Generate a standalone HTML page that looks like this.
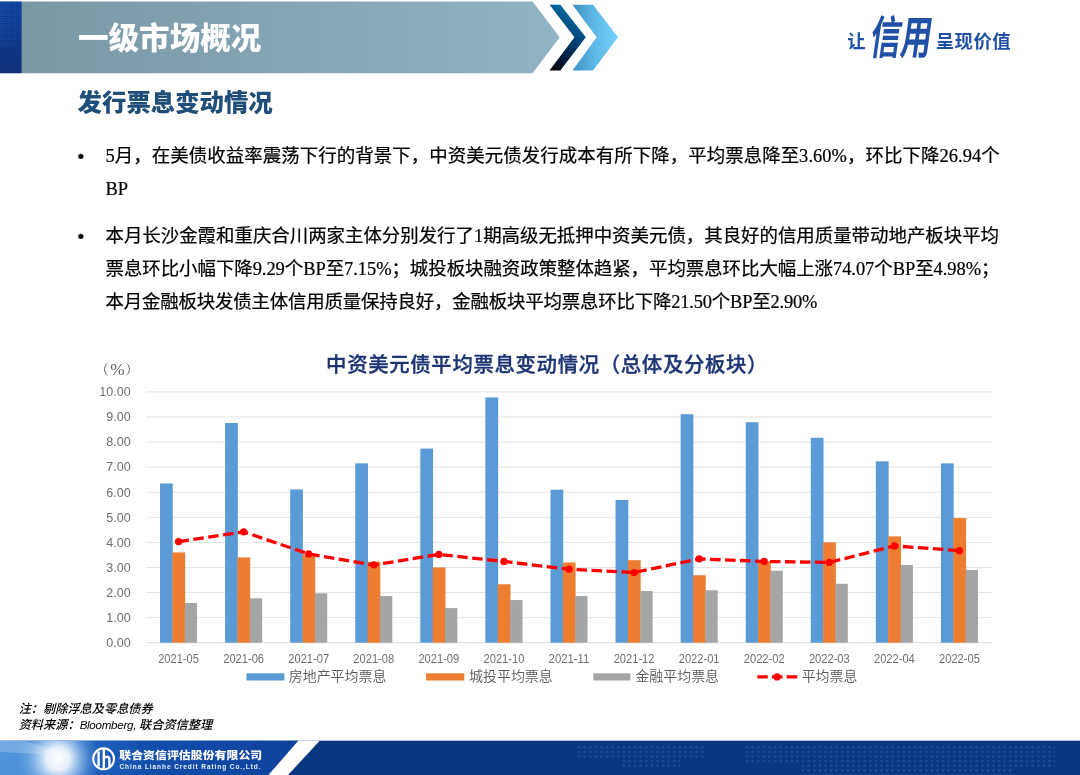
<!DOCTYPE html>
<html lang="zh-CN"><head><meta charset="utf-8"><title>一级市场概况</title>
<style>
html,body{margin:0;padding:0;background:#fff;}
body{width:1080px;height:775px;position:relative;overflow:hidden;font-family:"Liberation Sans","Noto Sans CJK SC",sans-serif;}
.abs{position:absolute;}
.banner{left:0;top:0;}
.h1{left:78px;top:15.6px;font-size:30.55px;line-height:44px;font-weight:900;color:#fff;white-space:nowrap;letter-spacing:0;}
.h2{left:77.6px;top:85px;font-size:24.4px;line-height:36px;font-weight:900;color:#1f4e79;white-space:nowrap;}
.slogan{color:#2151a6;white-space:nowrap;}
.body{left:105.5px;top:139.6px;font-family:"Liberation Serif","Noto Sans CJK SC",sans-serif;font-size:18.45px;line-height:33px;color:#000;white-space:nowrap;-webkit-text-stroke:0.22px #000;}
.body p{margin:0 0 14.9px 0;position:relative;}
.body p:before{content:"•";position:absolute;left:-28px;top:0;font-family:"Liberation Sans",sans-serif;font-size:19px;}
.note{left:18.7px;top:701.8px;font-size:12.2px;line-height:15.5px;font-style:italic;font-weight:500;color:#000;white-space:nowrap;}
.note span{font-size:11.6px;font-weight:400;letter-spacing:-0.28px;}
.chart{position:absolute;left:0;top:0;}
.chart .ax{font-family:"Liberation Sans",sans-serif;font-size:12px;fill:#6e6e6e;}
.chart .lg{font-family:"Liberation Sans","Noto Sans CJK SC",sans-serif;font-weight:350;font-size:13.95px;letter-spacing:0px;fill:#595959;}
.chart .pct{font-family:"Liberation Serif","Noto Serif CJK SC",serif;font-size:13.3px;fill:#595959;}
.chart .ct{font-family:"Liberation Sans","Noto Sans CJK SC",sans-serif;font-weight:500;font-size:20.4px;letter-spacing:0.66px;fill:#1d3573;stroke:#1d3573;stroke-width:0.35px;}
</style></head><body>
<svg class="abs banner" width="1080" height="80" viewBox="0 0 1080 80">
<defs>
<linearGradient id="gb" x1="0" x2="1" y1="0" y2="0"><stop offset="0" stop-color="#7996a4"/><stop offset="1" stop-color="#91b3c4"/></linearGradient>
<linearGradient id="gd" x1="0" x2="0" y1="0" y2="1"><stop offset="0" stop-color="#0a3d98"/><stop offset="1" stop-color="#11317a"/></linearGradient>
<pattern id="dots" width="2.4" height="2.4" patternUnits="userSpaceOnUse"><rect x="0.3" y="0.3" width="1.5" height="1.2" fill="#3f7bd0" fill-opacity="0.55"/></pattern>
<linearGradient id="dmg" x1="0" x2="1" y1="0" y2="1"><stop offset="0" stop-color="#fff"/><stop offset="0.55" stop-color="#888"/><stop offset="1" stop-color="#000"/></linearGradient>
<mask id="dm"><rect x="0" y="0" width="22" height="48" fill="url(#dmg)"/></mask>
<linearGradient id="c1" x1="0.2" x2="0.6" y1="1" y2="0"><stop offset="0" stop-color="#00040f"/><stop offset="0.5" stop-color="#003a6e"/><stop offset="1" stop-color="#0077ad"/></linearGradient>
<linearGradient id="c2" x1="0" x2="1" y1="0" y2="0"><stop offset="0" stop-color="#3b8fc1"/><stop offset="0.45" stop-color="#5cb6e4"/><stop offset="1" stop-color="#76d1fb"/></linearGradient>
</defs>
<polygon points="0,1.6 532.5,1.6 559.7,37.2 532.5,73.2 0,73.2" fill="url(#gb)"/>
<rect x="0" y="1.6" width="21.6" height="71.6" fill="url(#gd)"/>
<rect x="0" y="1.6" width="21.6" height="46" fill="url(#dots)" mask="url(#dm)"/>
<polygon points="549.5,4.7 560.3,4.7 585.8,37.2 560.3,70.4 549.5,70.4 574.5,37.2" fill="url(#c1)"/>
<polygon points="572.5,4.7 593,4.7 618,37.2 593,70.4 572.5,70.4 596.7,37.2" fill="url(#c2)"/>
</svg>
<div class="abs h1">一级市场概况</div>
<div class="abs h2">发行票息变动情况</div>
<div class="abs slogan" style="left:847.3px;top:28.6px;font-size:18.4px;line-height:26px;font-weight:700;">让</div>
<div class="abs slogan" style="left:870.8px;top:12px;font-size:30.6px;line-height:50px;font-weight:700;font-family:'Liberation Sans','Noto Sans CJK SC',sans-serif;letter-spacing:0px;transform-origin:0 50%;transform:scale(1,1.5) skewX(-12deg);">信用</div>
<div class="abs slogan" style="left:935.8px;top:28.6px;font-size:18.4px;line-height:26px;font-weight:700;letter-spacing:0.4px;">呈现价值</div>
<div class="abs body">
<p><span class="ln" style="letter-spacing:0.0585px">5月，在美债收益率震荡下行的背景下，中资美元债发行成本有所下降，平均票息降至3.60%，环比下降26.94个</span><br><span class="ln">BP</span></p>
<p><span class="ln" style="letter-spacing:-0.0146px">本月长沙金霞和重庆合川两家主体分别发行了1期高级无抵押中资美元债，其良好的信用质量带动地产板块平均</span><br><span class="ln" style="letter-spacing:-0.0407px">票息环比小幅下降9.29个BP至7.15%；城投板块融资政策整体趋紧，平均票息环比大幅上涨74.07个BP至4.98%；</span><br><span class="ln" style="letter-spacing:-0.1864px">本月金融板块发债主体信用质量保持良好，金融板块平均票息环比下降21.50个BP至2.90%</span></p>
</div>
<svg class="chart" width="1080" height="775" viewBox="0 0 1080 775">
<line x1="146.0" x2="992.0" y1="642.70" y2="642.70" stroke="#d9d9d9" stroke-width="1"/>
<text class="ax" x="106.30" y="647.00" textLength="24.4" lengthAdjust="spacingAndGlyphs">0.00</text>
<line x1="146.0" x2="992.0" y1="617.62" y2="617.62" stroke="#e4e4e4" stroke-width="1"/>
<text class="ax" x="106.30" y="621.92" textLength="24.4" lengthAdjust="spacingAndGlyphs">1.00</text>
<line x1="146.0" x2="992.0" y1="592.54" y2="592.54" stroke="#e4e4e4" stroke-width="1"/>
<text class="ax" x="106.30" y="596.84" textLength="24.4" lengthAdjust="spacingAndGlyphs">2.00</text>
<line x1="146.0" x2="992.0" y1="567.46" y2="567.46" stroke="#e4e4e4" stroke-width="1"/>
<text class="ax" x="106.30" y="571.76" textLength="24.4" lengthAdjust="spacingAndGlyphs">3.00</text>
<line x1="146.0" x2="992.0" y1="542.38" y2="542.38" stroke="#e4e4e4" stroke-width="1"/>
<text class="ax" x="106.30" y="546.68" textLength="24.4" lengthAdjust="spacingAndGlyphs">4.00</text>
<line x1="146.0" x2="992.0" y1="517.30" y2="517.30" stroke="#e4e4e4" stroke-width="1"/>
<text class="ax" x="106.30" y="521.60" textLength="24.4" lengthAdjust="spacingAndGlyphs">5.00</text>
<line x1="146.0" x2="992.0" y1="492.22" y2="492.22" stroke="#e4e4e4" stroke-width="1"/>
<text class="ax" x="106.30" y="496.52" textLength="24.4" lengthAdjust="spacingAndGlyphs">6.00</text>
<line x1="146.0" x2="992.0" y1="467.14" y2="467.14" stroke="#e4e4e4" stroke-width="1"/>
<text class="ax" x="106.30" y="471.44" textLength="24.4" lengthAdjust="spacingAndGlyphs">7.00</text>
<line x1="146.0" x2="992.0" y1="442.06" y2="442.06" stroke="#e4e4e4" stroke-width="1"/>
<text class="ax" x="106.30" y="446.36" textLength="24.4" lengthAdjust="spacingAndGlyphs">8.00</text>
<line x1="146.0" x2="992.0" y1="416.98" y2="416.98" stroke="#e4e4e4" stroke-width="1"/>
<text class="ax" x="106.30" y="421.28" textLength="24.4" lengthAdjust="spacingAndGlyphs">9.00</text>
<line x1="146.0" x2="992.0" y1="391.90" y2="391.90" stroke="#e4e4e4" stroke-width="1"/>
<text class="ax" x="99.30" y="396.20" textLength="31.4" lengthAdjust="spacingAndGlyphs">10.00</text>
<rect x="160.01" y="483.44" width="12.75" height="159.26" fill="#5b9bd5"/>
<rect x="172.36" y="552.41" width="12.75" height="90.29" fill="#ed7d31"/>
<rect x="184.71" y="602.95" width="12.35" height="39.75" fill="#a5a5a5"/>
<text class="ax" x="158.14" y="663.2" textLength="40.8" lengthAdjust="spacingAndGlyphs">2021-05</text>
<rect x="225.09" y="423.00" width="12.75" height="219.70" fill="#5b9bd5"/>
<rect x="237.44" y="557.43" width="12.75" height="85.27" fill="#ed7d31"/>
<rect x="249.79" y="598.31" width="12.35" height="44.39" fill="#a5a5a5"/>
<text class="ax" x="223.22" y="663.2" textLength="40.8" lengthAdjust="spacingAndGlyphs">2021-06</text>
<rect x="290.17" y="489.46" width="12.75" height="153.24" fill="#5b9bd5"/>
<rect x="302.52" y="554.42" width="12.75" height="88.28" fill="#ed7d31"/>
<rect x="314.87" y="593.29" width="12.35" height="49.41" fill="#a5a5a5"/>
<text class="ax" x="288.29" y="663.2" textLength="40.8" lengthAdjust="spacingAndGlyphs">2021-07</text>
<rect x="355.24" y="463.38" width="12.75" height="179.32" fill="#5b9bd5"/>
<rect x="367.59" y="561.69" width="12.75" height="81.01" fill="#ed7d31"/>
<rect x="379.94" y="596.05" width="12.35" height="46.65" fill="#a5a5a5"/>
<text class="ax" x="353.37" y="663.2" textLength="40.8" lengthAdjust="spacingAndGlyphs">2021-08</text>
<rect x="420.32" y="448.58" width="12.75" height="194.12" fill="#5b9bd5"/>
<rect x="432.67" y="567.46" width="12.75" height="75.24" fill="#ed7d31"/>
<rect x="445.02" y="608.09" width="12.35" height="34.61" fill="#a5a5a5"/>
<text class="ax" x="418.45" y="663.2" textLength="40.8" lengthAdjust="spacingAndGlyphs">2021-09</text>
<rect x="485.40" y="397.42" width="12.75" height="245.28" fill="#5b9bd5"/>
<rect x="497.75" y="584.26" width="12.75" height="58.44" fill="#ed7d31"/>
<rect x="510.10" y="600.06" width="12.35" height="42.64" fill="#a5a5a5"/>
<text class="ax" x="483.52" y="663.2" textLength="40.8" lengthAdjust="spacingAndGlyphs">2021-10</text>
<rect x="550.48" y="489.71" width="12.75" height="152.99" fill="#5b9bd5"/>
<rect x="562.83" y="562.44" width="12.75" height="80.26" fill="#ed7d31"/>
<rect x="575.18" y="596.05" width="12.35" height="46.65" fill="#a5a5a5"/>
<text class="ax" x="548.60" y="663.2" textLength="40.8" lengthAdjust="spacingAndGlyphs">2021-11</text>
<rect x="615.55" y="499.99" width="12.75" height="142.71" fill="#5b9bd5"/>
<rect x="627.90" y="560.19" width="12.75" height="82.51" fill="#ed7d31"/>
<rect x="640.25" y="591.04" width="12.35" height="51.66" fill="#a5a5a5"/>
<text class="ax" x="613.68" y="663.2" textLength="40.8" lengthAdjust="spacingAndGlyphs">2021-12</text>
<rect x="680.63" y="414.22" width="12.75" height="228.48" fill="#5b9bd5"/>
<rect x="692.98" y="575.23" width="12.75" height="67.47" fill="#ed7d31"/>
<rect x="705.33" y="590.28" width="12.35" height="52.42" fill="#a5a5a5"/>
<text class="ax" x="678.75" y="663.2" textLength="40.8" lengthAdjust="spacingAndGlyphs">2022-01</text>
<rect x="745.71" y="422.25" width="12.75" height="220.45" fill="#5b9bd5"/>
<rect x="758.06" y="561.19" width="12.75" height="81.51" fill="#ed7d31"/>
<rect x="770.41" y="570.72" width="12.35" height="71.98" fill="#a5a5a5"/>
<text class="ax" x="743.83" y="663.2" textLength="40.8" lengthAdjust="spacingAndGlyphs">2022-02</text>
<rect x="810.78" y="437.80" width="12.75" height="204.90" fill="#5b9bd5"/>
<rect x="823.13" y="542.38" width="12.75" height="100.32" fill="#ed7d31"/>
<rect x="835.48" y="583.76" width="12.35" height="58.94" fill="#a5a5a5"/>
<text class="ax" x="808.91" y="663.2" textLength="40.8" lengthAdjust="spacingAndGlyphs">2022-03</text>
<rect x="875.86" y="461.37" width="12.75" height="181.33" fill="#5b9bd5"/>
<rect x="888.21" y="536.36" width="12.75" height="106.34" fill="#ed7d31"/>
<rect x="900.56" y="564.95" width="12.35" height="77.75" fill="#a5a5a5"/>
<text class="ax" x="873.98" y="663.2" textLength="40.8" lengthAdjust="spacingAndGlyphs">2022-04</text>
<rect x="940.94" y="463.38" width="12.75" height="179.32" fill="#5b9bd5"/>
<rect x="953.29" y="518.05" width="12.75" height="124.65" fill="#ed7d31"/>
<rect x="965.64" y="569.97" width="12.35" height="72.73" fill="#a5a5a5"/>
<text class="ax" x="939.06" y="663.2" textLength="40.8" lengthAdjust="spacingAndGlyphs">2022-05</text>
<polyline fill="none" stroke="#ff0000" stroke-width="3.3" stroke-dasharray="10.5 4.5" stroke-linecap="butt" stroke-linejoin="round" points="178.54,541.63 243.62,531.85 308.69,553.92 373.77,564.95 438.85,554.42 503.92,561.44 569.00,569.22 634.08,572.48 699.15,558.93 764.23,561.44 829.31,562.44 894.38,545.89 959.46,550.66"/>
<circle cx="178.54" cy="541.63" r="3.6" fill="#ff0000"/>
<circle cx="243.62" cy="531.85" r="3.6" fill="#ff0000"/>
<circle cx="308.69" cy="553.92" r="3.6" fill="#ff0000"/>
<circle cx="373.77" cy="564.95" r="3.6" fill="#ff0000"/>
<circle cx="438.85" cy="554.42" r="3.6" fill="#ff0000"/>
<circle cx="503.92" cy="561.44" r="3.6" fill="#ff0000"/>
<circle cx="569.00" cy="569.22" r="3.6" fill="#ff0000"/>
<circle cx="634.08" cy="572.48" r="3.6" fill="#ff0000"/>
<circle cx="699.15" cy="558.93" r="3.6" fill="#ff0000"/>
<circle cx="764.23" cy="561.44" r="3.6" fill="#ff0000"/>
<circle cx="829.31" cy="562.44" r="3.6" fill="#ff0000"/>
<circle cx="894.38" cy="545.89" r="3.6" fill="#ff0000"/>
<circle cx="959.46" cy="550.66" r="3.6" fill="#ff0000"/>
<rect x="246.5" y="673.30" width="37.90" height="7.2" fill="#5b9bd5"/>
<text class="lg" x="288.8" y="681.20">房地产平均票息</text>
<rect x="426.1" y="673.30" width="38.20" height="7.2" fill="#ed7d31"/>
<text class="lg" x="469.1" y="681.20">城投平均票息</text>
<rect x="593.3" y="673.30" width="37.10" height="7.2" fill="#a5a5a5"/>
<text class="lg" x="635.4" y="681.20">金融平均票息</text>
<line x1="757.3" x2="797.3" y1="676.9" y2="676.9" stroke="#ff0000" stroke-width="3.4" stroke-dasharray="10.5 4.2"/><circle cx="777" cy="676.9" r="3.6" fill="#ff0000"/>
<text class="lg" x="801.7" y="681.20">平均票息</text>
<text class="pct" y="374.3"><tspan x="95.5">（</tspan><tspan x="110.3" y="375.2" font-size="17.3">%</tspan><tspan x="125.3" y="374.3">）</tspan></text>
<text class="ct" x="326.1" y="372.2">中资美元债平均票息变动情况（总体及分板块）</text>
</svg>
<div class="abs note">注：剔除浮息及零息债券<br>资料来源：<span>Bloomberg, </span>联合资信整理</div>
<svg class="abs" style="left:0;top:735px" width="1080" height="40" viewBox="0 735 1080 40">
<defs>
<linearGradient id="fl" x1="0" x2="1" y1="0" y2="0"><stop offset="0" stop-color="#4f94dc"/><stop offset="0.1" stop-color="#4a8fd9"/><stop offset="0.3" stop-color="#1f62c0"/><stop offset="0.5" stop-color="#134eab"/><stop offset="1" stop-color="#0d419b"/></linearGradient>
<radialGradient id="glow" cx="58" cy="759" r="42" gradientUnits="userSpaceOnUse"><stop offset="0" stop-color="#fff" stop-opacity="1"/><stop offset="0.28" stop-color="#f4f9ff" stop-opacity="0.92"/><stop offset="0.5" stop-color="#cfe5fa" stop-opacity="0.62"/><stop offset="0.75" stop-color="#9cc8f0" stop-opacity="0.28"/><stop offset="1" stop-color="#7fb5ea" stop-opacity="0"/></radialGradient>
<pattern id="wd" width="5.6" height="4.6" patternUnits="userSpaceOnUse"><rect x="1" y="1" width="2.6" height="2.2" rx="0.8" fill="#2f6fc0" fill-opacity="0.42"/></pattern>
<clipPath id="fc"><polygon points="0,740.7 298.3,740.7 268.4,775 0,775"/></clipPath>
</defs>
<rect x="0" y="740.7" width="1080" height="34.3" fill="#0a3782"/>
<path d="M575 745h130v14h-25v9h-60v-9h-45z M745 745h310v22h-40v8h-215v-12h-55z" fill="url(#wd)"/>
<polygon points="0,740.7 298.3,740.7 268.4,775 0,775" fill="url(#fl)"/>
<g clip-path="url(#fc)"><ellipse cx="58" cy="759" rx="42" ry="42" fill="url(#glow)"/>
<polygon points="0,741 25,741 75,756 0,752" fill="#fff" opacity="0.22"/></g>
<polygon points="298.3,740.7 319.7,740.7 288,775 268.4,775" fill="#fff"/>
<circle cx="103.6" cy="758.8" r="10.4" fill="none" stroke="#fff" stroke-width="2.1"/>
<path d="M98.6 751.5v14.8 M103.8 749v19.6 M103.8 758q5.6-3.2 5.6 2.2v6.6" fill="none" stroke="#fff" stroke-width="2.4"/>
<text transform="translate(119.3 759) scale(1 0.9)" font-family="'Liberation Sans','Noto Sans CJK SC',sans-serif" font-weight="900" font-size="11.9" fill="#fff" letter-spacing="0.02">联合资信评估股份有限公司</text>
<text x="119.5" y="769.3" font-family="'Liberation Sans',sans-serif" font-weight="700" font-size="6.5" fill="#fff" fill-opacity="0.92" letter-spacing="0.93">China Lianhe Credit Rating Co.,Ltd.</text>
</svg>
</body></html>
